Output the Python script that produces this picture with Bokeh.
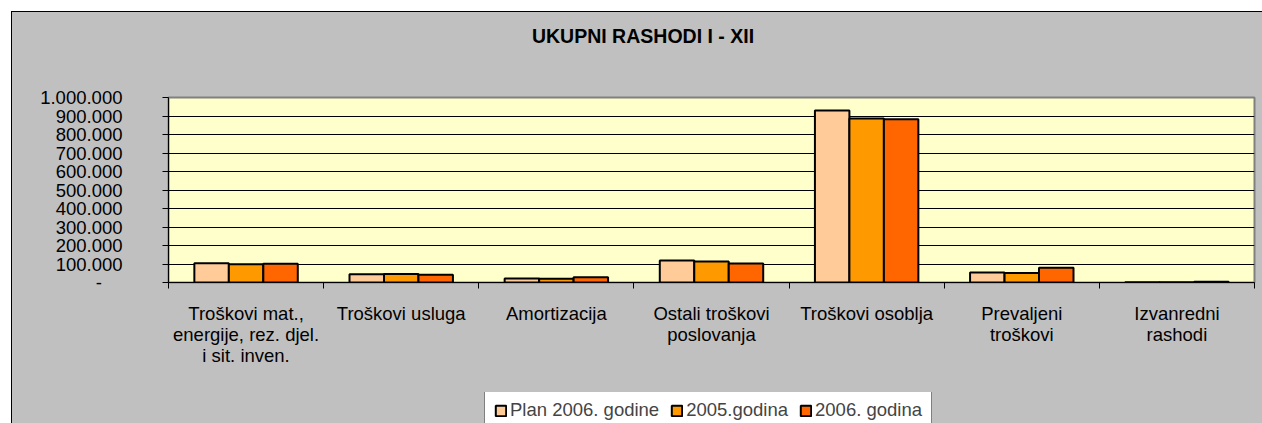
from bokeh.plotting import figure
from bokeh.layouts import column
from bokeh.models import Range1d, FixedTicker, Label, Legend, LegendItem, ColumnDataSource
from bokeh.embed import file_html
from bokeh.resources import INLINE

# ---- data ----
categories = [
    "Troškovi mat.,\nenergije, rez. djel.\ni sit. inven.",
    "Troškovi usluga",
    "Amortizacija",
    "Ostali troškovi\nposlovanja",
    "Troškovi osoblja",
    "Prevaljeni\ntroškovi",
    "Izvanredni\nrashodi",
]
series_names = ["Plan 2006. godine", "2005.godina", "2006. godina"]
plan_2006 = [104000, 44000, 22000, 119000, 930000, 54000, 1000]
god_2005 = [99000, 46000, 20000, 114000, 887000, 51000, 1000]
god_2006 = [102000, 42000, 29000, 103000, 882000, 80000, 4000]
y_ticks = [0, 100000, 200000, 300000, 400000, 500000, 600000, 700000, 800000, 900000, 1000000]
y_tick_labels = ["-", "100.000", "200.000", "300.000", "400.000", "500.000",
                 "600.000", "700.000", "800.000", "900.000", "1.000.000"]
title_text = "UKUPNI RASHODI I - XII"

# ---- style ----
FONT = "Liberation Sans"
FS = "18.5px"
GRAY = "#C0C0C0"
colors = ["#FFCC99", "#FF9900", "#FF6600"]
W = 1250
H_TITLE, H_CHART, H_LEG = 70, 310, 31


def strip(height, y_range):
    f = figure(width=W, height=height, x_range=Range1d(0, len(categories)), y_range=y_range,
               output_backend="svg", toolbar_location=None,
               x_axis_location=None, y_axis_location=None, min_border=0)
    f.xgrid.visible = False
    f.ygrid.visible = False
    f.background_fill_color = None
    f.border_fill_color = None
    f.outline_line_color = None
    return f


bw = 1 / 4.5
centers = [i + 0.5 for i in range(len(categories))]
sources = [ColumnDataSource(dict(x=[c + (k - 1) * bw for c in centers], top=vals))
           for k, vals in enumerate([plan_2006, god_2005, god_2006])]

# ---- title strip ----
t = strip(H_TITLE, Range1d(0, 1))
t.add_layout(Label(x=474.5, y=46.7, x_units="screen", y_units="screen", text=title_text,
                   text_font=FONT, text_font_style="bold", text_font_size="19.5px",
                   text_align="center", text_baseline="alphabetic", text_color="black"))

# ---- chart ----
p = figure(width=W, height=H_CHART, x_range=Range1d(0, len(categories)), y_range=Range1d(0, 1000000),
           output_backend="svg", toolbar_location=None, title=None,
           min_border_left=156, min_border_right=8, min_border_top=15, min_border_bottom=110)
p.background_fill_color = "#FFFFCC"
p.border_fill_color = GRAY
p.outline_line_color = "#808080"
p.outline_line_width = 2

for src, col in zip(sources, colors):
    p.vbar(x="x", top="top", bottom=0, width=bw, source=src,
           fill_color=col, line_color="black", line_width=2)

xa = p.xaxis[0]
xa.ticker = FixedTicker(ticks=centers, minor_ticks=list(range(len(categories) + 1)))
xa.major_label_overrides = {c: lab for c, lab in zip(centers, categories)}
xa.major_tick_out = 0
xa.major_tick_in = 0
xa.minor_tick_out = 6
xa.minor_tick_in = 0
xa.minor_tick_line_color = "black"
xa.axis_line_color = "black"
xa.major_label_text_font = FONT
xa.major_label_text_font_size = FS
xa.major_label_text_color = "black"
xa.major_label_text_line_height = 1.02
xa.major_label_standoff = 14
p.xgrid.visible = False

ya = p.yaxis[0]
ya.ticker = FixedTicker(ticks=y_ticks, minor_ticks=[])
ya.major_label_overrides = {t_: (lab if t_ != 0 else lab + "\u00a0" * 4) for t_, lab in zip(y_ticks, y_tick_labels)}
ya.major_tick_out = 6
ya.major_tick_in = 0
ya.major_tick_line_color = "black"
ya.minor_tick_line_color = None
ya.axis_line_color = "black"
ya.major_label_text_font = FONT
ya.major_label_text_font_size = FS
ya.major_label_text_color = "black"
ya.major_label_standoff = 40
p.ygrid.ticker = FixedTicker(ticks=y_ticks, minor_ticks=[])
p.ygrid.grid_line_color = "black"
p.ygrid.grid_line_width = 1

# ---- legend strip (same series, renderers hidden so only the legend swatches show) ----
lg = strip(H_LEG, Range1d(0, 1000000))
swatches = []
for src, col in zip(sources, colors):
    r = lg.vbar(x="x", top="top", bottom=0, width=bw, source=src,
                fill_color=col, line_color="black", line_width=2)
    r.visible = False
    swatches.append(r)
legend = Legend(items=[LegendItem(label=n, renderers=[r]) for n, r in zip(series_names, swatches)],
                location=(316, -8), orientation="horizontal")
legend.border_line_color = "black"
legend.border_line_width = 1
legend.background_fill_color = "white"
legend.background_fill_alpha = 1
legend.inactive_fill_alpha = 0
legend.label_text_font = FONT
legend.label_text_font_size = FS
legend.glyph_width = 13
legend.glyph_height = 13
legend.label_standoff = 3
legend.spacing = 11
legend.padding = 9
legend.margin = 0
lg.add_layout(legend)

layout = column(t, p, lg, spacing=0)
layout.margin = (11, 0, 0, 11)
layout.styles = {"border-left": "1px solid black", "border-top": "1px solid black",
                 "background-color": GRAY}

with open("out.html", "w", encoding="utf-8") as f:
    f.write(file_html(layout, INLINE))
